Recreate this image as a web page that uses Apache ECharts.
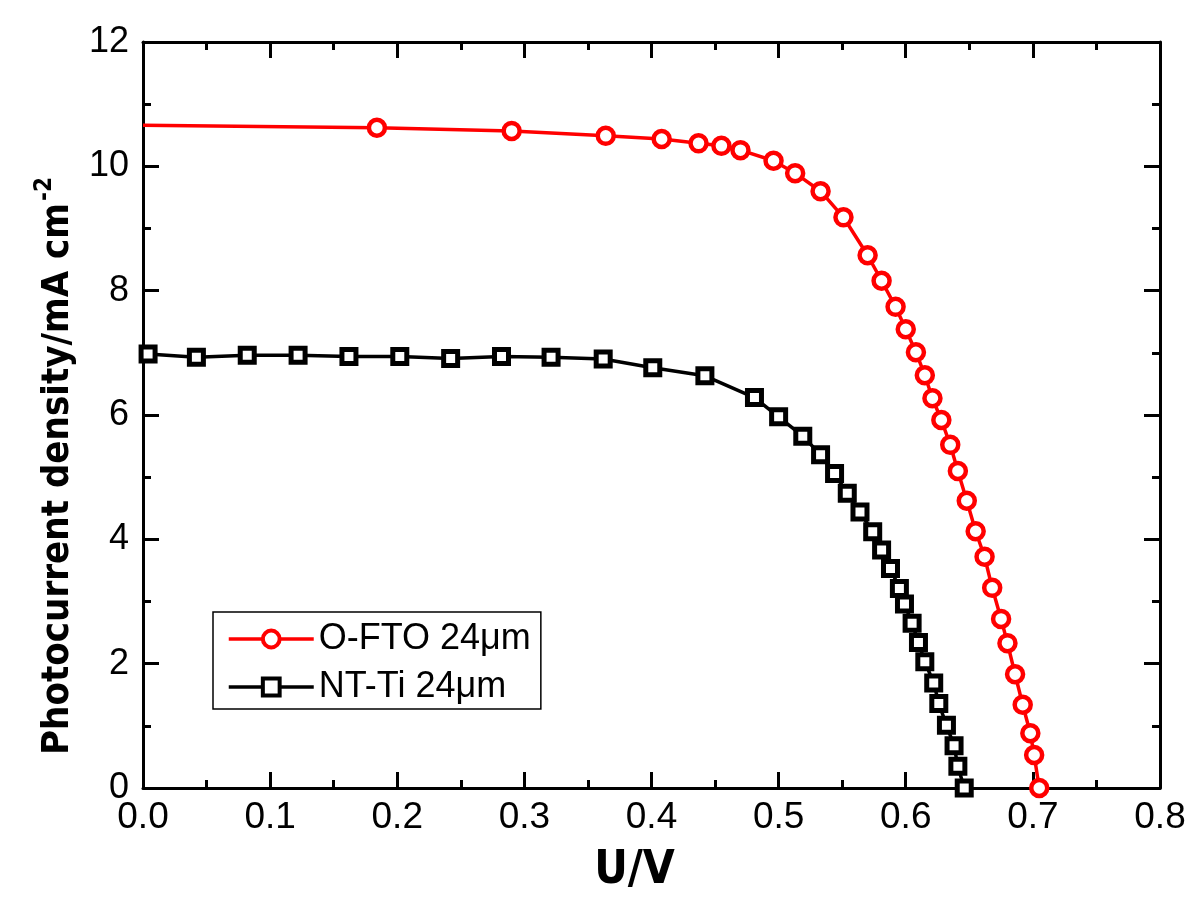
<!DOCTYPE html>
<html>
<head>
<meta charset="utf-8">
<script src="https://cdn.jsdelivr.net/npm/echarts@6/dist/echarts.min.js"></script>
<style>
html,body{margin:0;padding:0;background:#fff;}
#c{width:1200px;height:905px;}
</style>
</head>
<body>
<div id="c"></div>
<script>
// ---- data ----
const seriesNames = ['O-FTO 24\u03bcm', 'NT-Ti 24\u03bcm'];
const xTicks = [0.0, 0.1, 0.2, 0.3, 0.4, 0.5, 0.6, 0.7, 0.8];
const yTicks = [0, 2, 4, 6, 8, 10, 12];

const u_ofto = [0, 0.184, 0.290, 0.364, 0.408, 0.437, 0.455, 0.470, 0.496, 0.513, 0.533, 0.551, 0.570, 0.581, 0.592, 0.600,
  0.608, 0.615, 0.621, 0.628, 0.635, 0.641, 0.648, 0.655, 0.662, 0.668, 0.675, 0.680, 0.686, 0.692, 0.698, 0.701, 0.705];
const j_ofto = [10.66, 10.62, 10.57, 10.49, 10.44, 10.37, 10.33, 10.26, 10.09, 9.89, 9.60, 9.18, 8.57, 8.16, 7.74, 7.38,
  7.01, 6.64, 6.27, 5.92, 5.52, 5.10, 4.62, 4.13, 3.72, 3.22, 2.72, 2.33, 1.83, 1.34, 0.88, 0.53, 0.0];

const u_nt = [0.004, 0.042, 0.082, 0.122, 0.162, 0.202, 0.242, 0.282, 0.321, 0.362, 0.401, 0.442, 0.481, 0.500, 0.519, 0.533,
  0.544, 0.554, 0.564, 0.574, 0.581, 0.588, 0.595, 0.599, 0.605, 0.610, 0.615, 0.622, 0.626, 0.632, 0.638, 0.641, 0.646];
const j_nt = [6.98, 6.93, 6.96, 6.96, 6.94, 6.94, 6.91, 6.94, 6.93, 6.90, 6.76, 6.63, 6.28, 5.97, 5.66, 5.36,
  5.06, 4.74, 4.44, 4.12, 3.83, 3.53, 3.21, 2.96, 2.65, 2.34, 2.03, 1.69, 1.36, 1.01, 0.68, 0.35, 0.0];

// ---- build ----
const NARROW = '"DejaVu Sans Condensed", "Liberation Sans", Arial, sans-serif';
const REG = '"Liberation Sans", Arial, sans-serif';

const ofto = u_ofto.map((u, i) => i === 0 ? { value: [u, j_ofto[i]], symbol: 'none' } : [u, j_ofto[i]]);
const nt = u_nt.map((u, i) => [u, j_nt[i]]);

const axisLine = { show: true, onZero: false, lineStyle: { color: '#000', width: 3 } };
const axisTick = { show: true, inside: true, length: 16, lineStyle: { color: '#000', width: 3 } };
const minorTick = { show: true, splitNumber: 2, length: 8, lineStyle: { color: '#000', width: 3 } };

const chart = echarts.init(document.getElementById('c'), null, { renderer: 'canvas' });
chart.setOption({
  backgroundColor: '#fff',
  animation: false,
  grid: { left: 143, right: 40, top: 42, bottom: 117, containLabel: false },
  legend: {
    orient: 'vertical',
    left: 213, top: 612,
    data: seriesNames,
    itemWidth: 85, itemHeight: 21, itemGap: 12,
    padding: [9, 10, 4, 14],
    borderColor: '#000', borderWidth: 1.5,
    lineStyle: { width: 3.5 },
    itemStyle: { borderWidth: 4 },
    textStyle: { fontFamily: REG, fontSize: 36, color: '#000', lineHeight: 36 },
    selectedMode: false
  },
  xAxis: [{
    type: 'value', position: 'bottom', min: 0, max: 0.8, interval: 0.1,
    axisLine, axisTick, minorTick, splitLine: { show: false },
    axisLabel: { margin: 11, fontFamily: REG, fontSize: 37, color: '#000', formatter: v => v.toFixed(1) },
    name: 'U/V', nameLocation: 'middle', nameGap: 60,
    nameTextStyle: { fontFamily: NARROW, fontWeight: 'bold', fontSize: 46, color: '#000', padding: [0, 34, 0, 0] }
  }, {
    type: 'value', position: 'top', min: 0, max: 0.8, interval: 0.1,
    axisLine, axisTick, minorTick, splitLine: { show: false }, axisLabel: { show: false }
  }],
  yAxis: [{
    type: 'value', position: 'left', min: 0, max: 12, interval: 2,
    axisLine, axisTick, minorTick, splitLine: { show: false },
    axisLabel: { margin: 14, fontFamily: REG, fontSize: 36, color: '#000' },
    name: '{a|Photocurrent density/mA cm}{s|-2}', nameLocation: 'middle', nameGap: 66,
    nameTextStyle: {
      color: '#000', padding: [0, 102, 0, 0],
      rich: {
        a: { fontFamily: NARROW, fontWeight: 'bold', fontSize: 38, color: '#000', lineHeight: 44, verticalAlign: 'bottom' },
        s: { fontFamily: NARROW, fontWeight: 'bold', fontSize: 24, color: '#000', lineHeight: 44, verticalAlign: 'top', padding: [0, 0, 18, 2] }
      }
    }
  }, {
    type: 'value', position: 'right', min: 0, max: 12, interval: 2,
    axisLine, axisTick, minorTick, splitLine: { show: false }, axisLabel: { show: false }
  }],
  series: [{
    name: seriesNames[0], type: 'line', data: ofto, clip: false,
    symbol: 'circle', symbolSize: 16,
    lineStyle: { color: '#ff0000', width: 3.5 },
    itemStyle: { color: '#fff', borderColor: '#ff0000', borderWidth: 4.5 },
    z: 3
  }, {
    name: seriesNames[1], type: 'line', data: nt, clip: false,
    symbol: 'rect', symbolSize: 14,
    lineStyle: { color: '#000', width: 3.5 },
    itemStyle: { color: '#fff', borderColor: '#000', borderWidth: 5 },
    z: 4
  }]
});
</script>
</body>
</html>
